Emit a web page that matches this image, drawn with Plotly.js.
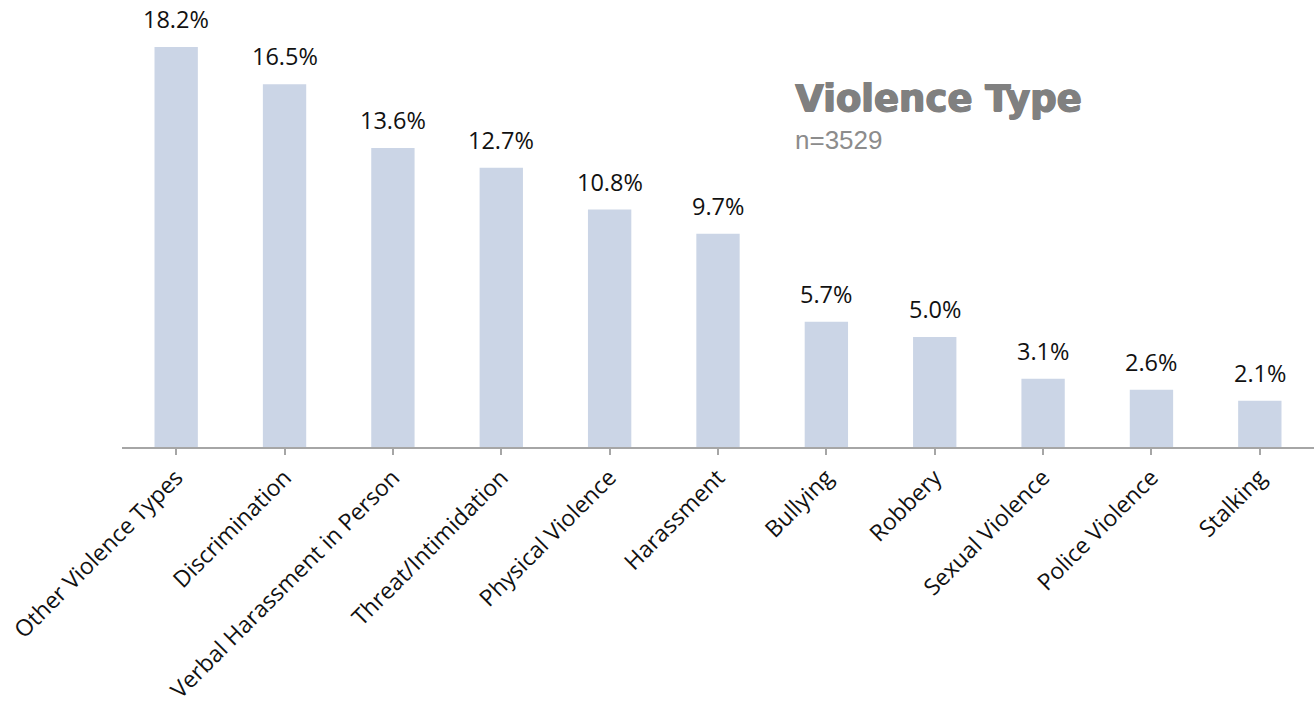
<!DOCTYPE html>
<html>
<head>
<meta charset="utf-8">
<script src="https://cdn.plot.ly/plotly-3.0.1.min.js"></script>
<style>html,body{margin:0;padding:0;background:#fff;}#chart{width:1314px;height:707px;}</style>
</head>
<body>
<div id="chart"></div>
<script>
const categories = ["Other Violence Types","Discrimination","Verbal Harassment in Person","Threat/Intimidation","Physical Violence","Harassment","Bullying","Robbery","Sexual Violence","Police Violence","Stalking"];
const values = [18.2, 16.5, 13.6, 12.7, 10.8, 9.7, 5.7, 5.0, 3.1, 2.6, 2.1];
const valueLabels = values.map(v => v.toFixed(1) + "%");
const chartTitle = "Violence Type";
const chartSubtitle = "n=3529";

const barTrace = {
  type: "bar",
  x: categories,
  y: values,
  marker: {color: "#CBD5E6"},
  hoverinfo: "x+y"
};

const labelAnnotations = categories.map((c, i) => ({
  x: c, y: values[i], xref: "x", yref: "y",
  text: valueLabels[i], showarrow: false,
  yanchor: "bottom", yshift: 10,
  font: {family: "Open Sans", size: 23.5, color: "#111"}
}));

const plotL = 122, plotW = 1192, plotT = 10, plotH = 437;

const layout = {
  width: 1314, height: 707,
  margin: {l: plotL, r: 0, t: plotT, b: 260},
  paper_bgcolor: "#fff", plot_bgcolor: "#fff",
  bargap: 0.6,
  showlegend: false,
  xaxis: {
    type: "category",
    range: [-0.5, 10.5],
    tickangle: -45,
    showline: true, linecolor: "#a6a6a6", linewidth: 2,
    ticks: "outside", ticklen: 6, tickcolor: "#a6a6a6", tickwidth: 2,
    tickfont: {family: "Open Sans", size: 23, color: "#111"},
    showgrid: false, zeroline: false
  },
  yaxis: {
    range: [0, 19.88],
    visible: false,
    showgrid: false, zeroline: false
  },
  annotations: labelAnnotations.concat([
    {xref: "paper", yref: "paper", x: (793-plotL)/plotW, y: 1 - (98-plotT)/plotH,
     xanchor: "left", yanchor: "middle", showarrow: false, text: "<b>" + chartTitle + "</b>",
     font: {family: "DejaVu Sans", size: 37, color: "#808080",
            shadow: "1px 0 0 #808080, -0.5px 0 0 #808080, 0 0.5px 0 #808080"}},
    {xref: "paper", yref: "paper", x: (793-plotL)/plotW, y: 1 - (140-plotT)/plotH,
     xanchor: "left", yanchor: "middle", showarrow: false, text: chartSubtitle,
     font: {family: "Liberation Sans", size: 26, color: "#8c8c8c"}}
  ])
};

Plotly.newPlot("chart", [barTrace], layout, {displayModeBar: false, staticPlot: true});
</script>
</body>
</html>
